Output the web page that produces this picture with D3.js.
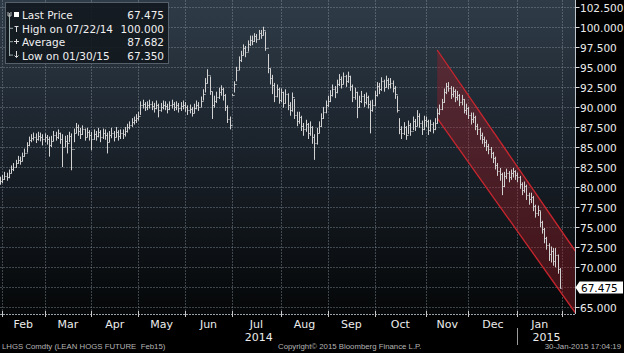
<!DOCTYPE html>
<html><head><meta charset="utf-8">
<script src="https://cdn.jsdelivr.net/npm/d3@7"></script>
<style>html,body{margin:0;padding:0;background:#000;overflow:hidden}</style>
</head><body>
<script>
// ---- DATA ----
const closes = [80.8,
81.0,81.4,81.2,81.8,82.3,82.5,83.0,83.4,83.3,83.9,84.3,85.2,85.9,86.1,86.3,86.0,86.4,86.2,86.0,
86.2,86.0,85.3,85.8,86.5,86.3,86.7,86.0,85.0,85.8,85.5,86.4,84.8,86.8,87.5,87.0,86.6,87.2,86.3,86.9,86.5,
86.0,86.6,86.4,86.9,86.2,86.7,86.5,85.6,86.5,86.8,86.3,86.9,86.4,86.7,86.6,87.0,87.5,87.8,88.1,88.4,88.6,
88.9,90.3,90.4,90.0,90.2,90.4,90.1,89.9,90.3,89.6,90.0,90.3,90.1,89.8,90.2,90.4,90.0,90.2,89.9,90.1,90.3,
90.0,89.6,89.8,89.3,89.9,90.3,90.0,90.8,91.6,93.0,94.0,92.0,90.2,90.8,91.3,91.8,92.2,91.5,90.0,88.5,87.8,
91.5,92.8,94.6,95.8,96.5,97.3,96.8,97.8,98.4,98.2,98.8,98.5,99.2,99.0,99.6,97.3,94.8,93.6,92.7,91.4,92.2,90.9,
91.8,90.5,91.6,90.2,89.6,91.2,89.0,88.2,88.8,87.6,87.2,87.9,86.8,87.5,86.2,85.5,86.8,87.6,88.6,89.4,90.2,
90.8,91.5,92.2,91.8,92.8,93.5,92.9,93.8,93.2,93.9,92.6,91.2,91.8,90.0,90.8,91.4,90.6,91.2,90.4,89.6,90.2,
91.5,92.6,92.2,93.2,92.5,93.4,92.8,93.0,92.4,91.6,89.6,87.2,86.8,87.5,86.5,87.8,87.0,88.3,87.6,88.9,88.0,87.2,88.4,
88.2,87.1,87.9,87.3,88.0,89.3,89.8,90.6,91.8,92.6,92.4,91.6,92.0,91.2,91.5,90.6,91.0,89.6,89.9,
89.0,88.5,88.8,87.6,87.2,86.5,86.0,85.6,85.1,84.8,84.2,83.6,82.8,82.0,81.6,80.2,81.4,81.8,81.2,81.7,82.0,81.5,
81.2,80.4,79.6,80.2,79.0,78.5,78.8,77.6,76.8,77.2,75.6,74.8,73.6,72.8,71.6,72.0,70.8,71.5,69.8,67.475];
const highs = [81.3,
81.5,81.9,81.8,82.2,82.7,83.0,83.4,83.9,83.8,84.3,84.8,85.6,86.3,86.6,86.8,86.7,86.9,86.8,86.6,
86.7,86.5,86.3,86.4,87.0,86.9,87.2,86.8,86.6,86.4,86.5,86.9,86.7,87.3,88.0,87.8,87.4,87.7,87.3,87.4,87.1,
86.9,87.2,87.0,87.4,87.1,87.3,87.2,86.8,87.0,87.4,87.0,87.5,87.1,87.2,87.2,87.5,87.9,88.2,88.6,88.8,89.1,
89.4,90.7,90.9,90.6,90.7,90.9,90.7,90.5,90.8,90.4,90.5,90.8,90.7,90.4,90.7,90.9,90.6,90.7,90.5,90.6,90.8,
90.6,90.2,90.3,90.0,90.4,90.8,90.6,91.3,92.2,93.6,94.7,93.8,91.9,91.4,91.9,92.4,92.7,92.4,91.6,90.2,88.8,
91.6,93.2,95.0,96.3,97.0,97.8,97.6,98.3,98.9,98.9,99.2,99.1,99.6,99.6,100.0,99.4,96.6,94.8,94.0,93.0,92.8,92.4,
92.3,91.9,92.2,91.7,90.6,91.8,91.0,89.4,89.4,88.9,88.0,88.4,88.0,88.2,87.6,86.6,87.4,88.2,89.2,90.0,90.8,
91.4,92.1,92.8,92.6,93.4,94.1,93.8,94.3,94.0,94.4,93.9,92.8,92.4,91.9,91.4,92.0,91.6,91.8,91.4,90.8,90.9,
92.0,93.1,93.0,93.7,93.4,93.9,93.6,93.6,93.3,92.6,91.4,88.6,87.6,88.1,87.6,88.3,88.0,88.8,88.5,89.6,89.2,88.3,88.9,
88.8,88.4,88.4,88.1,88.6,89.8,90.3,91.0,92.3,93.0,93.1,92.6,92.5,92.2,92.0,91.6,91.5,91.0,90.4,
90.0,89.3,89.3,88.9,87.9,87.4,86.8,86.3,85.9,85.4,85.0,84.4,83.8,83.0,82.4,81.8,81.9,82.3,82.0,82.2,82.4,82.1,
81.8,81.4,80.6,80.7,80.3,79.3,79.3,78.9,77.8,77.7,77.0,75.8,74.9,73.8,73.0,72.6,72.4,72.4,71.6,69.9];
const lows = [80.3,
80.5,80.9,80.8,81.1,81.7,82.0,82.4,82.9,82.8,83.2,83.8,84.3,85.1,85.6,85.8,85.5,85.8,85.7,85.2,
85.6,85.3,83.8,85.0,85.7,85.8,86.0,85.4,82.5,85.0,84.2,85.6,82.1,85.6,86.7,86.4,86.0,86.5,85.8,86.2,85.8,
84.6,85.9,85.8,86.2,85.6,86.0,85.9,84.2,85.6,86.1,85.7,86.2,85.8,86.0,86.0,86.3,86.8,87.2,87.5,87.8,88.0,
88.3,89.0,89.8,89.5,89.6,89.8,89.6,89.3,89.7,88.7,89.4,89.7,89.6,89.2,89.6,89.8,89.5,89.6,89.3,89.5,89.7,
89.4,89.0,89.2,88.8,89.2,89.7,89.5,90.0,90.8,91.8,92.9,91.5,88.5,89.9,90.5,91.0,91.4,90.8,89.5,88.0,87.2,
91.4,91.8,93.2,94.6,95.6,96.4,96.2,96.9,97.6,97.7,98.1,98.0,98.4,98.5,98.9,97.0,94.2,92.8,91.6,90.6,91.2,90.4,
90.6,89.9,90.4,89.6,88.9,89.4,88.5,87.6,87.9,87.0,86.4,86.9,86.0,86.4,85.4,83.4,85.3,86.7,87.5,88.5,89.2,
90.0,90.6,91.3,91.1,91.7,92.6,92.3,92.8,92.5,93.0,92.0,90.6,90.9,88.6,89.9,90.5,90.0,90.3,89.8,86.7,89.4,
90.1,91.3,91.6,92.0,91.9,92.4,92.2,92.3,91.8,91.0,89.3,86.6,86.0,86.5,85.9,86.6,86.4,87.1,87.0,87.6,87.4,86.5,87.1,
87.5,86.5,86.9,86.7,87.1,87.9,89.0,89.6,90.5,91.6,91.9,91.0,91.2,90.6,90.8,90.1,90.2,89.2,89.0,
88.5,87.8,88.0,87.1,86.5,85.9,85.4,85.0,84.5,84.1,83.6,83.0,82.2,81.4,80.8,79.0,80.0,81.0,80.6,80.9,81.2,80.9,
80.6,79.8,79.0,79.3,78.4,77.8,78.0,77.0,76.2,76.4,75.0,74.2,73.0,72.2,70.8,70.6,70.2,70.0,69.2,67.35];
const holidays = ["2014-02-17","2014-04-18","2014-05-26","2014-07-04","2014-09-01","2014-11-27","2014-12-25","2015-01-01","2015-01-19"];
const startDate = "2014-01-31", endDate = "2015-01-30";
const yTicks = [65,67.5,70,72.5,75,77.5,80,82.5,85,87.5,90,92.5,95,97.5,100,102.5];
const monthLabels = ["Feb","Mar","Apr","May","Jun","Jul","Aug","Sep","Oct","Nov","Dec","Jan"];
const yearLabels = ["2014","2015"];
const legendLabels = ["Last Price","High on 07/22/14","Average","Low on 01/30/15"];
const legendValues = ["67.475","100.000","87.682","67.350"];
const lastPrice = 67.475;
// trend channel: [index, value] corners
const channelUpper = [[196,97.1],[258,72.0]];
const channelLower = [[196,88.6],[258,64.3]];

// ---- trading calendar ----
const parse = d3.utcParse("%Y-%m-%d"), fmt = d3.utcFormat("%Y-%m-%d");
const hol = new Set(holidays);
const dates = d3.utcDay.range(parse(startDate), d3.utcDay.offset(parse(endDate),1))
  .filter(d => d.getUTCDay()!==0 && d.getUTCDay()!==6 && !hol.has(fmt(d)));
const bars = dates.map((d,i)=>({i, date:d, h:highs[i], l:lows[i], c:closes[i], o: i>0?closes[i-1]:closes[i]}));

const monthStarts = [];
dates.forEach((d,i)=>{ if(i>0 && d.getUTCMonth()!==dates[i-1].getUTCMonth()) monthStarts.push(i); });
monthStarts.push(dates.length);

// ---- layout ----
const W=624,H=353, plotR=575.5, plotB=314;
const x = d3.scaleLinear().domain([0, dates.length]).range([-0.1, 562.1]);
const y = d3.scaleLinear().domain([65,102.5]).range([307.4,6.7]);

const svg = d3.select("body").append("svg").attr("width",W).attr("height",H)
  .style("display","block").style("background","#000");
const defs = svg.append("defs");
const g = defs.append("linearGradient").attr("id","bg").attr("x1",0).attr("y1",0).attr("x2",0).attr("y2",1);
g.append("stop").attr("offset","0").attr("stop-color","#2f3c48");
g.append("stop").attr("offset","0.45").attr("stop-color","#1b232c");
g.append("stop").attr("offset","1").attr("stop-color","#050708");
defs.append("clipPath").attr("id","clip").append("rect").attr("x",0).attr("y",0).attr("width",plotR).attr("height",plotB);

svg.append("rect").attr("x",0).attr("y",0).attr("width",plotR).attr("height",plotB).attr("fill","url(#bg)");

// grid
const grid = svg.append("g").attr("stroke","#8a96a2").attr("stroke-opacity",0.42).attr("stroke-width",1).attr("stroke-dasharray","2,1");
yTicks.forEach(t=>grid.append("line").attr("x1",0).attr("x2",plotR).attr("y1",Math.round(y(t))+0.5).attr("y2",Math.round(y(t))+0.5));
monthStarts.forEach(i=>grid.append("line").attr("x1",Math.round(x(i))+0.5).attr("x2",Math.round(x(i))+0.5).attr("y1",0).attr("y2",plotB));

// channel
const cg = svg.append("g").attr("clip-path","url(#clip)");
const poly = [channelUpper[0],channelUpper[1],channelLower[1],channelLower[0]].map(p=>[x(p[0]),y(p[1])]);
cg.append("path").attr("d","M"+poly.join("L")+"Z").attr("fill","#a0202a").attr("fill-opacity",0.38);
[channelUpper, channelLower].forEach(ln=>cg.append("line")
  .attr("x1",x(ln[0][0])).attr("y1",y(ln[0][1])).attr("x2",x(ln[1][0])).attr("y2",y(ln[1][1]))
  .attr("stroke","#c8262e").attr("stroke-width",1.3));

// OHLC bars
const bg = svg.append("g").attr("stroke","#d2d2d2").attr("stroke-width",1).attr("clip-path","url(#clip)");
bars.forEach(b=>{
  const xx = Math.round(x(b.i))+0.5;
  bg.append("line").attr("x1",xx).attr("x2",xx).attr("y1",y(b.h)).attr("y2",y(b.l));
  bg.append("line").attr("x1",xx-1).attr("x2",xx).attr("y1",Math.round(y(b.o))+0.5).attr("y2",Math.round(y(b.o))+0.5);
  bg.append("line").attr("x1",xx).attr("x2",xx+1).attr("y1",Math.round(y(b.c))+0.5).attr("y2",Math.round(y(b.c))+0.5);
});

// right axis
const ra = svg.append("g");
ra.append("line").attr("x1",plotR).attr("x2",plotR).attr("y1",0).attr("y2",plotB).attr("stroke","#bfc6cc").attr("stroke-width",1);
yTicks.forEach(t=>{
  const yy=Math.round(y(t))+0.5;
  ra.append("line").attr("x1",plotR).attr("x2",plotR+4).attr("y1",yy).attr("y2",yy).attr("stroke","#e0e0e0");
  ra.append("text").attr("x",580).attr("y",yy+4).text(d3.format(".3f")(t))
    .attr("fill","#ececec").attr("font-family","DejaVu Sans").attr("font-size","10.5px");
});
const ly = y(lastPrice);
ra.append("path").attr("d",`M${plotR},${ly} L${plotR+4},${ly-6} L623,${ly-6} L623,${ly+6} L${plotR+4},${ly+6} Z`).attr("fill","#ffffff");
ra.append("text").attr("x",581).attr("y",ly+4).text(d3.format(".3f")(lastPrice))
  .attr("fill","#000").attr("font-family","DejaVu Sans").attr("font-size","10.5px");

// bottom axis
const ba = svg.append("g");
ba.append("line").attr("x1",0).attr("x2",plotR).attr("y1",plotB+0.5).attr("y2",plotB+0.5).attr("stroke","#9aa3ab").attr("stroke-dasharray","2,1");
monthStarts.forEach(i=>{
  const xx=Math.round(x(i))+0.5;
  ba.append("line").attr("x1",xx).attr("x2",xx).attr("y1",plotB-3).attr("y2",plotB+3).attr("stroke","#c8c8c8");
});
monthLabels.forEach((m,k)=>{
  const cx=(x(monthStarts[k])+x(monthStarts[k+1]))/2;
  ba.append("text").attr("x",cx).attr("y",327.5).attr("text-anchor","middle").text(m)
    .attr("fill","#ececec").attr("font-family","DejaVu Sans").attr("font-size","11px");
});
const yearBreak = monthStarts[monthLabels.indexOf("Jan")];
ba.append("line").attr("x1",Math.round(x(yearBreak))+0.5).attr("x2",Math.round(x(yearBreak))+0.5).attr("y1",328).attr("y2",345).attr("stroke","#9a9a9a");
[[0,x(yearBreak)],[x(yearBreak),plotR]].forEach((r,k)=>{
  ba.append("text").attr("x",(r[0]+r[1])/2).attr("y",340.5).attr("text-anchor","middle").text(yearLabels[k])
    .attr("fill","#ececec").attr("font-family","DejaVu Sans").attr("font-size","11px");
});

// footer
const footStyle = t => t.attr("fill","#b4b4b4").attr("font-family","Liberation Sans").attr("font-size","7.8px").style("white-space","pre");
footStyle(svg.append("text").attr("x",2).attr("y",349).text("LHGS Comdty (LEAN HOGS FUTURE  Feb15)"));
footStyle(svg.append("text").attr("x",278).attr("y",349).text("Copyright\u00A9 2015 Bloomberg Finance L.P."));
footStyle(svg.append("text").attr("x",621).attr("y",349).attr("text-anchor","end").text("30-Jan-2015 17:04:19"));

// legend
const lg = svg.append("g");
lg.append("rect").attr("x",5.5).attr("y",2.5).attr("width",163).attr("height",61).attr("fill","#12181e").attr("fill-opacity",0.9).attr("stroke","#56606a");
const rowsY=[19.3,32.8,46.2,59.6];
lg.append("line").attr("x1",9.5).attr("x2",9.5).attr("y1",13).attr("y2",56).attr("stroke","#9aa").attr("stroke-width",1);
lg.append("path").attr("d","M8,12 L8,16 L11,16 L11,12").attr("fill","none").attr("stroke","#bbb");
lg.append("rect").attr("x",14).attr("y",12).attr("width",5).attr("height",5).attr("fill","#fff");
rowsY.slice(1).forEach(ry=>lg.append("line").attr("x1",9.5).attr("x2",13).attr("y1",ry-4.5).attr("y2",ry-4.5).attr("stroke","#9aa"));
lg.append("path").attr("d","M14.5,26.5 L18.5,26.5 M16.5,26.5 L16.5,32").attr("stroke","#ddd").attr("fill","none");
lg.append("path").attr("d","M14,41.5 L19,41.5 M16.5,39 L16.5,44").attr("stroke","#ddd").attr("fill","none");
lg.append("path").attr("d","M16.5,51 L16.5,57.5 M14.5,55.5 L16.5,57.5 L18.5,55.5").attr("stroke","#ddd").attr("fill","none");
legendLabels.forEach((t,k)=>{
  lg.append("text").attr("x",22).attr("y",rowsY[k]).text(t).attr("fill","#f0f0f0").attr("font-family","DejaVu Sans").attr("font-size","10.5px");
  lg.append("text").attr("x",164).attr("y",rowsY[k]).attr("text-anchor","end").text(legendValues[k]).attr("fill","#f0f0f0").attr("font-family","DejaVu Sans").attr("font-size","10.5px");
});
</script>
</body></html>
